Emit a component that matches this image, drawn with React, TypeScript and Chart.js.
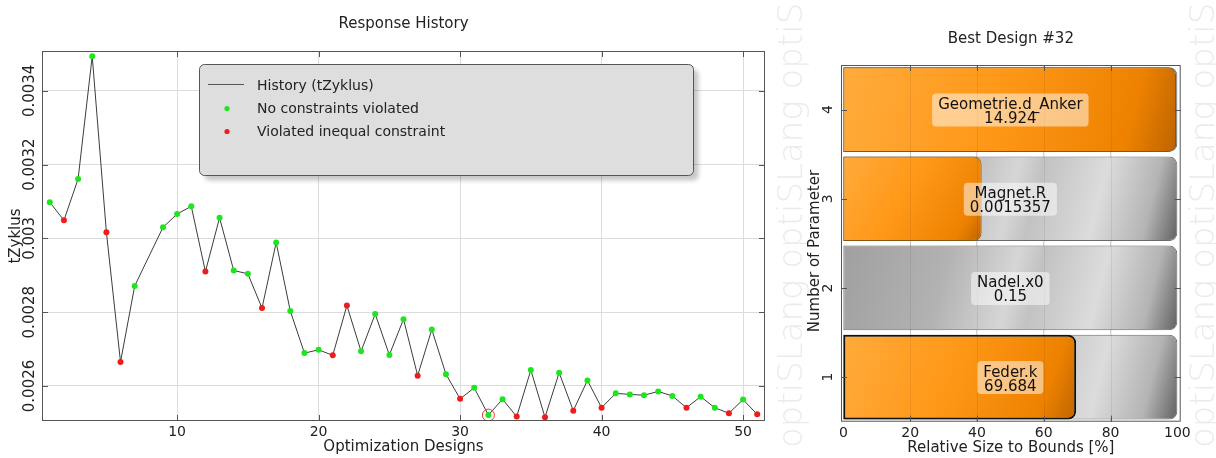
import React, { useEffect, useRef } from "react";
import { Chart, registerables } from "chart.js";

Chart.register(...registerables);

const FONT = '"DejaVu Sans", Verdana, sans-serif';
const TEXT = "#222222";

// ---------- Left chart: Response History ----------
const designs = [1, 2, 3, 4, 5, 6, 7, 9, 10, 11, 12, 13, 14, 15, 16, 17, 18, 19, 20, 21, 22, 23, 24, 25, 26, 27, 28, 29, 30, 31, 32, 33, 34, 35, 36, 37, 38, 39, 40, 41, 42, 43, 44, 45, 46, 47, 48, 49, 50, 51];
const tZyklus = [
  0.003098, 0.003049, 0.003161, 0.003494, 0.003017, 0.002665, 0.002871,
  0.00303, 0.003066, 0.003087, 0.00291, 0.003056, 0.002913, 0.002904, 0.002811,
  0.002989, 0.002803, 0.002689, 0.002698, 0.002683, 0.002818, 0.002694, 0.002795,
  0.002684, 0.002781, 0.002628, 0.002753, 0.002632, 0.002565, 0.002595, 0.002521,
  0.002564, 0.002517, 0.002643, 0.002515, 0.002636, 0.002533, 0.002615, 0.002541,
  0.00258, 0.002577, 0.002575, 0.002585, 0.002573, 0.002541, 0.002571, 0.002541,
  0.002526, 0.002563, 0.002523,
];
// "ok" = No constraints violated, "viol" = Violated inequal constraint
const status = [
  "ok", "viol", "ok", "ok", "viol", "viol", "ok",
  "ok", "ok", "ok", "viol", "ok", "ok", "ok", "viol",
  "ok", "ok", "ok", "ok", "viol", "viol", "ok", "ok",
  "ok", "ok", "viol", "ok", "ok", "viol", "ok", "ok",
  "ok", "viol", "ok", "viol", "ok", "viol", "ok", "viol",
  "ok", "ok", "ok", "ok", "ok", "viol", "ok", "ok",
  "viol", "ok", "viol",
];
const bestDesign = 32;
const yTickValues = [0.0026, 0.0028, 0.003, 0.0032, 0.0034];
const yTickLabels = ["0.0026", "0.0028", "0.003", "0.0032", "0.0034"];
const xTickValues = [10, 20, 30, 40, 50];
const xTickLabels = ["10", "20", "30", "40", "50"];
const legendLabels = ["History (tZyklus)", "No constraints violated", "Violated inequal constraint"];

// ---------- Right chart: Best Design ----------
const paramNumbers = ["4", "3", "2", "1"];
const paramNames = ["Geometrie.d_Anker", "Magnet.R", "Nadel.x0", "Feder.k"];
const paramValues = ["14.924", "0.0015357", "0.15", "69.684"];
const relativeSize = [99.6, 41.4, 0, 69.7];
const boundsFull = [100, 100, 100, 100];
const xTicksRight = [0, 20, 40, 60, 80, 100];
const xTickLabelsRight = ["0", "20", "40", "60", "80", "100"];
const watermark = "optiSLang";

const GREEN = "#1ee61e";
const RED = "#ee1c1c";
const SPLIT = 772;
const H = 458;

function roundRect(ctx: CanvasRenderingContext2D, x: number, y: number, w: number, h: number, r: number) {
  ctx.beginPath();
  ctx.moveTo(x + r, y);
  ctx.arcTo(x + w, y, x + w, y + h, r);
  ctx.arcTo(x + w, y + h, x, y + h, r);
  ctx.arcTo(x, y + h, x, y, r);
  ctx.arcTo(x, y, x + w, y, r);
  ctx.closePath();
}

function drawText(ctx: CanvasRenderingContext2D, s: string, x: number, y: number, size: number, rot = 0, align: CanvasTextAlign = "center", color = TEXT) {
  ctx.save();
  ctx.translate(x, y);
  if (rot) ctx.rotate(rot);
  ctx.font = `${size}px ${FONT}`;
  ctx.fillStyle = color;
  ctx.textAlign = align;
  ctx.textBaseline = "middle";
  ctx.fillText(s, 0, 0);
  ctx.restore();
}

function HistoryChart() {
  const ref = useRef<HTMLCanvasElement>(null);
  useEffect(() => {
    const canvas = ref.current!;
    const pts = designs.map((d, i) => ({ x: d, y: tZyklus[i] }));
    const colors = status.map((s) => (s === "ok" ? GREEN : RED));
    const bestIdx = designs.indexOf(bestDesign);

    const decor = {
      id: "historyDecor",
      afterDraw(chart: any) {
        const { ctx, chartArea: a, scales } = chart;
        const x = scales.x, y = scales.y;
        ctx.save();
        ctx.strokeStyle = "#555555";
        ctx.lineWidth = 1;
        ctx.strokeRect(a.left + 0.5, a.top + 0.5, a.right - a.left - 1, a.bottom - a.top - 1);
        ctx.beginPath();
        xTickValues.forEach((v) => {
          const px = Math.round(x.getPixelForValue(v)) + 0.5;
          ctx.moveTo(px, a.bottom);
          ctx.lineTo(px, a.bottom - 6);
          ctx.moveTo(px, a.top);
          ctx.lineTo(px, a.top + 6);
        });
        yTickValues.forEach((v) => {
          const py = Math.round(y.getPixelForValue(v)) + 0.5;
          ctx.moveTo(a.left, py);
          ctx.lineTo(a.left + 6, py);
          ctx.moveTo(a.right, py);
          ctx.lineTo(a.right - 6, py);
        });
        ctx.stroke();
        ctx.restore();

        xTickValues.forEach((v, i) => drawText(ctx, xTickLabels[i], x.getPixelForValue(v), 432, 14));
        yTickValues.forEach((v, i) => drawText(ctx, yTickLabels[i], 30.5, y.getPixelForValue(v), 15, -Math.PI / 2));
        const cx = (a.left + a.right) / 2;
        drawText(ctx, "Optimization Designs", cx, 447, 15);
        drawText(ctx, "tZyklus", 16, (a.top + a.bottom) / 2, 15, -Math.PI / 2);
        drawText(ctx, "Response History", cx, 24.5, 15);

        // legend
        const lx = 199.5, ly = 64.5, lw = 494, lh = 111;
        ctx.save();
        ctx.shadowColor = "rgba(0,0,0,0.22)";
        ctx.shadowBlur = 4;
        ctx.shadowOffsetX = 5;
        ctx.shadowOffsetY = 5;
        roundRect(ctx, lx, ly, lw, lh, 5);
        ctx.fillStyle = "#dedede";
        ctx.fill();
        ctx.restore();
        ctx.save();
        roundRect(ctx, lx, ly, lw, lh, 5);
        ctx.strokeStyle = "#555555";
        ctx.lineWidth = 1;
        ctx.stroke();
        ctx.beginPath();
        ctx.moveTo(208, 84.5);
        ctx.lineTo(244, 84.5);
        ctx.strokeStyle = "#555555";
        ctx.stroke();
        [GREEN, RED].forEach((c, i) => {
          ctx.beginPath();
          ctx.arc(227, 108.5 + i * 23, 2.6, 0, Math.PI * 2);
          ctx.fillStyle = c;
          ctx.fill();
        });
        ctx.restore();
        legendLabels.forEach((s, i) => drawText(ctx, s, 257, 86 + i * 23, 14, 0, "left"));
      },
    };

    const chart = new Chart(canvas, {
      type: "line",
      data: {
        datasets: [
          {
            label: "best",
            data: [pts[bestIdx]],
            showLine: false,
            pointRadius: 6,
            pointBorderColor: "#e33",
            pointBackgroundColor: "rgba(0,0,0,0)",
            pointBorderWidth: 1,
            order: 0,
          } as any,
          {
            label: legendLabels[0],
            data: pts,
            borderColor: "#3c3c3c",
            borderWidth: 1,
            pointRadius: 3,
            pointBackgroundColor: colors,
            pointBorderColor: colors,
            pointBorderWidth: 0,
            tension: 0,
            order: 1,
          } as any,
        ],
      },
      options: {
        responsive: false,
        animation: false,
        layout: { padding: { top: 51, right: 3, left: 0, bottom: 0 } },
        plugins: { legend: { display: false }, title: { display: false }, tooltip: { enabled: false } },
        scales: {
          x: {
            type: "linear",
            min: 0.45,
            max: 51.55,
            afterBuildTicks: (s: any) => { s.ticks = xTickValues.map((v) => ({ value: v })); },
            afterFit: (s: any) => { s.height = 37; },
            ticks: { display: false },
            grid: { color: "#dcdcdc", drawTicks: false },
            border: { display: false },
          },
          y: {
            type: "linear",
            min: 0.002505,
            max: 0.003508,
            afterBuildTicks: (s: any) => { s.ticks = yTickValues.map((v) => ({ value: v })); },
            afterFit: (s: any) => { s.width = 42; },
            ticks: { display: false },
            grid: { color: "#dcdcdc", drawTicks: false },
            border: { display: false },
          },
        },
      } as any,
      plugins: [decor],
    });
    return () => chart.destroy();
  }, []);
  return <canvas ref={ref} width={SPLIT} height={H} style={{ position: "absolute", left: 0, top: 0, width: SPLIT, height: H }} />;
}

function barGeom(chart: any, idx: number, from: number, to: number) {
  const xs = chart.scales.x, ys = chart.scales.y;
  const yc = ys.getPixelForValue(idx);
  const half = ((ys.bottom - ys.top) / paramNumbers.length) * 0.95 / 2;
  return { x0: xs.getPixelForValue(from), x1: xs.getPixelForValue(to), y0: yc - half, y1: yc + half };
}

function orangeBg(c: any) {
  const chart = c.chart;
  if (c.type !== "data" || !chart.chartArea || !chart.scales.x) return "#ff9a1f";
  const g = barGeom(chart, c.dataIndex, 0, Math.max(c.raw, 1));
  const grad = chart.ctx.createLinearGradient(g.x0, g.y0, g.x1, g.y1);
  grad.addColorStop(0, "#ffab3c");
  grad.addColorStop(0.45, "#ff9818");
  grad.addColorStop(0.85, "#ee8200");
  grad.addColorStop(1, "#bd6400");
  return grad;
}

function grayBg(c: any) {
  const chart = c.chart;
  if (c.type !== "data" || !chart.chartArea || !chart.scales.x) return "#c8c8c8";
  const g = barGeom(chart, c.dataIndex, 0, 100);
  const grad = chart.ctx.createLinearGradient(g.x0, g.y0, g.x1, g.y1);
  grad.addColorStop(0, "#a0a0a0");
  grad.addColorStop(0.3, "#b2b2b2");
  grad.addColorStop(0.5, "#d6d6d6");
  grad.addColorStop(0.57, "#c2c2c2");
  grad.addColorStop(0.75, "#dcdcdc");
  grad.addColorStop(0.9, "#b4b4b4");
  grad.addColorStop(1, "#606060");
  return grad;
}

function BestDesignChart() {
  const ref = useRef<HTMLCanvasElement>(null);
  useEffect(() => {
    const canvas = ref.current!;
    const W = 1216 - SPLIT;

    const decor = {
      id: "bestDecor",
      beforeDraw(chart: any) {
        const ctx = chart.ctx;
        ctx.save();
        ctx.font = `200 34px "DejaVu Sans ExtraLight", "DejaVu Sans", sans-serif`;
        ctx.fillStyle = "#ebebeb";
        ctx.textAlign = "left";
        ctx.textBaseline = "middle";
        [21, 433].forEach((wx) => {
          ctx.save();
          ctx.translate(wx, 448);
          ctx.rotate(-Math.PI / 2);
          ctx.fillText([watermark, watermark, watermark].join(" "), 0, 0);
          ctx.restore();
        });
        ctx.restore();
      },
      afterDatasetsDraw(chart: any) {
        const { ctx, chartArea: a, scales } = chart;
        const x = scales.x, y = scales.y;
        ctx.save();
        ctx.strokeStyle = "rgba(0,0,0,0.07)";
        ctx.lineWidth = 1;
        ctx.beginPath();
        [20, 40, 60, 80].forEach((v) => {
          const px = Math.round(x.getPixelForValue(v)) + 0.5;
          ctx.moveTo(px, a.top);
          ctx.lineTo(px, a.bottom);
        });
        ctx.stroke();
        ctx.restore();
        paramNames.forEach((name, i) => {
          const xc = x.getPixelForValue(50);
          const yc = y.getPixelForValue(i);
          ctx.save();
          ctx.font = `15px ${FONT}`;
          const w = Math.max(ctx.measureText(name).width, ctx.measureText(paramValues[i]).width) + 12;
          roundRect(ctx, xc - w / 2, yc - 16, w, 33, 4);
          ctx.fillStyle = "rgba(255,255,255,0.5)";
          ctx.fill();
          ctx.restore();
          drawText(ctx, name, xc, yc - 4.5, 15, 0, "center", "#111");
          drawText(ctx, paramValues[i], xc, yc + 9.5, 15, 0, "center", "#111");
        });
      },
      afterDraw(chart: any) {
        const { ctx, chartArea: a, scales } = chart;
        const x = scales.x, y = scales.y;
        ctx.save();
        ctx.strokeStyle = "#555555";
        ctx.lineWidth = 1;
        ctx.strokeRect(a.left + 0.5, a.top + 0.5, a.right - a.left - 1, a.bottom - a.top - 1);
        ctx.beginPath();
        [20, 40, 60, 80].forEach((v) => {
          const px = Math.round(x.getPixelForValue(v)) + 0.5;
          ctx.moveTo(px, a.bottom);
          ctx.lineTo(px, a.bottom - 6);
          ctx.moveTo(px, a.top);
          ctx.lineTo(px, a.top + 6);
        });
        paramNumbers.forEach((_, i) => {
          const py = Math.round(y.getPixelForValue(i)) + 0.5;
          ctx.moveTo(a.left, py);
          ctx.lineTo(a.left + 6, py);
          ctx.moveTo(a.right, py);
          ctx.lineTo(a.right - 6, py);
        });
        ctx.stroke();
        ctx.restore();

        xTicksRight.forEach((v, i) => drawText(ctx, xTickLabelsRight[i], x.getPixelForValue(v), 433, 14));
        paramNumbers.forEach((s, i) => drawText(ctx, s, 56, y.getPixelForValue(i), 14, -Math.PI / 2));
        const cx = (a.left + a.right) / 2;
        drawText(ctx, "Relative Size to Bounds [%]", cx, 448.5, 15);
        drawText(ctx, "Number of Parameter", 43, 251, 15, -Math.PI / 2);
        drawText(ctx, "Best Design #32", cx, 39.5, 15);
      },
    };

    const chart = new Chart(canvas, {
      type: "bar",
      data: {
        labels: paramNumbers,
        datasets: [
          {
            label: "Relative size",
            data: relativeSize,
            backgroundColor: orangeBg,
            borderColor: (c: any) => (c.dataIndex === 3 ? "#111111" : "#8a5412"),
            borderWidth: (c: any) => (c.raw === 0 ? 0 : c.dataIndex === 3 ? 2 : 1),
            borderRadius: { topLeft: 0, bottomLeft: 0, topRight: 8, bottomRight: 8 },
            borderSkipped: false,
            grouped: false,
            order: 1,
            barPercentage: 0.95,
            categoryPercentage: 1,
          } as any,
          {
            label: "Bounds",
            data: boundsFull,
            backgroundColor: grayBg,
            borderColor: "#6a6a6a",
            borderWidth: 1,
            borderRadius: { topLeft: 0, bottomLeft: 0, topRight: 8, bottomRight: 8 },
            borderSkipped: false,
            grouped: false,
            order: 2,
            barPercentage: 0.95,
            categoryPercentage: 1,
          } as any,
        ],
      },
      options: {
        indexAxis: "y",
        responsive: false,
        animation: false,
        layout: { padding: { top: 65, right: W - 408.7, left: 0, bottom: 0 } },
        plugins: { legend: { display: false }, title: { display: false }, tooltip: { enabled: false } },
        scales: {
          x: {
            type: "linear",
            min: -0.7,
            max: 101,
            afterBuildTicks: (s: any) => { s.ticks = [20, 40, 60, 80].map((v) => ({ value: v })); },
            afterFit: (s: any) => { s.height = 36.3; },
            ticks: { display: false },
            grid: { color: "#d4d4d4", drawTicks: false },
            border: { display: false },
          },
          y: {
            type: "category",
            afterFit: (s: any) => { s.width = 69; },
            ticks: { display: false },
            grid: { display: false },
            border: { display: false },
          },
        },
      } as any,
      plugins: [decor],
    });
    return () => chart.destroy();
  }, []);
  return <canvas ref={ref} width={1216 - SPLIT} height={H} style={{ position: "absolute", left: SPLIT, top: 0, width: 1216 - SPLIT, height: H }} />;
}

export default function App() {
  return (
    <div style={{ position: "fixed", left: 0, top: 0, width: 1216, height: 458, background: "#ffffff", overflow: "hidden" }}>
      <HistoryChart />
      <BestDesignChart />
    </div>
  );
}
